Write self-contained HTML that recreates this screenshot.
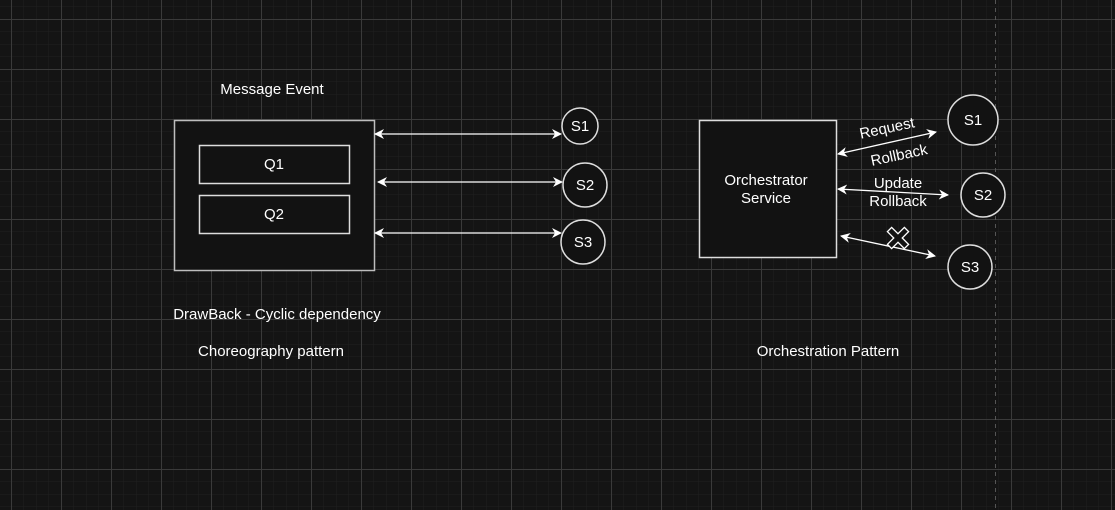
<!DOCTYPE html>
<html><head><style>
html,body{margin:0;padding:0;background:#141414;}
svg{display:block;}
text{font-family:"Liberation Sans",sans-serif;fill:#fff;font-size:15px;}
</style></head><body>
<svg width="1115" height="510" xmlns="http://www.w3.org/2000/svg">
<defs>
<pattern id="mi" width="12.5" height="12.5" patternUnits="userSpaceOnUse" x="11" y="19">
<path d="M0 0H12.5M0 0V12.5" stroke="#202020" stroke-width="1" fill="none"/>
</pattern>
<pattern id="ma" width="50" height="50" patternUnits="userSpaceOnUse" x="11" y="19">
<path d="M0 0.5H50M0.5 0V50" stroke="#3a3a3a" stroke-width="1" fill="none"/>
</pattern>
<marker id="ah" viewBox="0 0 10 10" refX="9" refY="5" markerWidth="10" markerHeight="10" orient="auto-start-reverse" markerUnits="userSpaceOnUse">
<path d="M0 0L10 5L0 10L3 5Z" fill="#fff"/>
</marker>
</defs>
<rect width="1115" height="510" fill="#141414"/>
<rect width="1115" height="510" fill="url(#mi)"/>
<rect width="1115" height="510" fill="url(#ma)"/>
<line x1="995.5" y1="0" x2="995.5" y2="510" stroke="#555" stroke-dasharray="4 4"/>

<text x="272" y="94" text-anchor="middle">Message Event</text>
<rect x="174.5" y="120.5" width="200" height="150" fill="#121212" stroke="#bdbdbd" stroke-width="1.5"/>
<rect x="199.5" y="145.5" width="150" height="38" fill="#121212" stroke="#ddd" stroke-width="1.5"/>
<text x="274" y="169" text-anchor="middle">Q1</text>
<rect x="199.5" y="195.5" width="150" height="38" fill="#121212" stroke="#ddd" stroke-width="1.5"/>
<text x="274" y="219" text-anchor="middle">Q2</text>

<g stroke="#fff" stroke-width="1.3" fill="none">
<line x1="375" y1="134" x2="561" y2="134" marker-start="url(#ah)" marker-end="url(#ah)"/>
<line x1="378" y1="182" x2="562" y2="182" marker-start="url(#ah)" marker-end="url(#ah)"/>
<line x1="375" y1="233" x2="561" y2="233" marker-start="url(#ah)" marker-end="url(#ah)"/>
</g>
<g stroke="#ddd" stroke-width="1.5" fill="#121212">
<circle cx="580" cy="126" r="18"/>
<circle cx="585" cy="185" r="22"/>
<circle cx="583" cy="242" r="22"/>
<circle cx="973" cy="120" r="25"/>
<circle cx="983" cy="195" r="22"/>
<circle cx="970" cy="267" r="22"/>
</g>
<text x="580" y="131" text-anchor="middle">S1</text>
<text x="585" y="190" text-anchor="middle">S2</text>
<text x="583" y="247" text-anchor="middle">S3</text>
<text x="973" y="125" text-anchor="middle">S1</text>
<text x="983" y="200" text-anchor="middle">S2</text>
<text x="970" y="272" text-anchor="middle">S3</text>

<text x="277" y="319" text-anchor="middle">DrawBack - Cyclic dependency</text>
<text x="271" y="356" text-anchor="middle">Choreography pattern</text>

<rect x="699.5" y="120.5" width="137" height="137" fill="#121212" stroke="#ddd" stroke-width="1.5"/>
<text x="766" y="185" text-anchor="middle">Orchestrator</text>
<text x="766" y="203" text-anchor="middle">Service</text>

<g stroke="#fff" stroke-width="1.3" fill="none">
<line x1="838" y1="154" x2="936" y2="132" marker-start="url(#ah)" marker-end="url(#ah)"/>
<line x1="838" y1="189" x2="948" y2="195" marker-start="url(#ah)" marker-end="url(#ah)"/>
<line x1="841" y1="236" x2="935" y2="256" marker-start="url(#ah)" marker-end="url(#ah)"/>
</g>
<text x="887" y="133" text-anchor="middle" transform="rotate(-12 887 128)">Request</text>
<text x="899" y="160" text-anchor="middle" transform="rotate(-12 899 155)">Rollback</text>
<text x="898" y="188" text-anchor="middle">Update</text>
<text x="898" y="206" text-anchor="middle">Rollback</text>
<g transform="translate(898,238) rotate(45)">
<path d="M-3 -12H3V-3H12V3H3V12H-3V3H-12V-3H-3Z" fill="#141414" stroke="#fff" stroke-width="1.3"/>
</g>
<text x="828" y="356" text-anchor="middle">Orchestration Pattern</text>
</svg>
</body></html>
